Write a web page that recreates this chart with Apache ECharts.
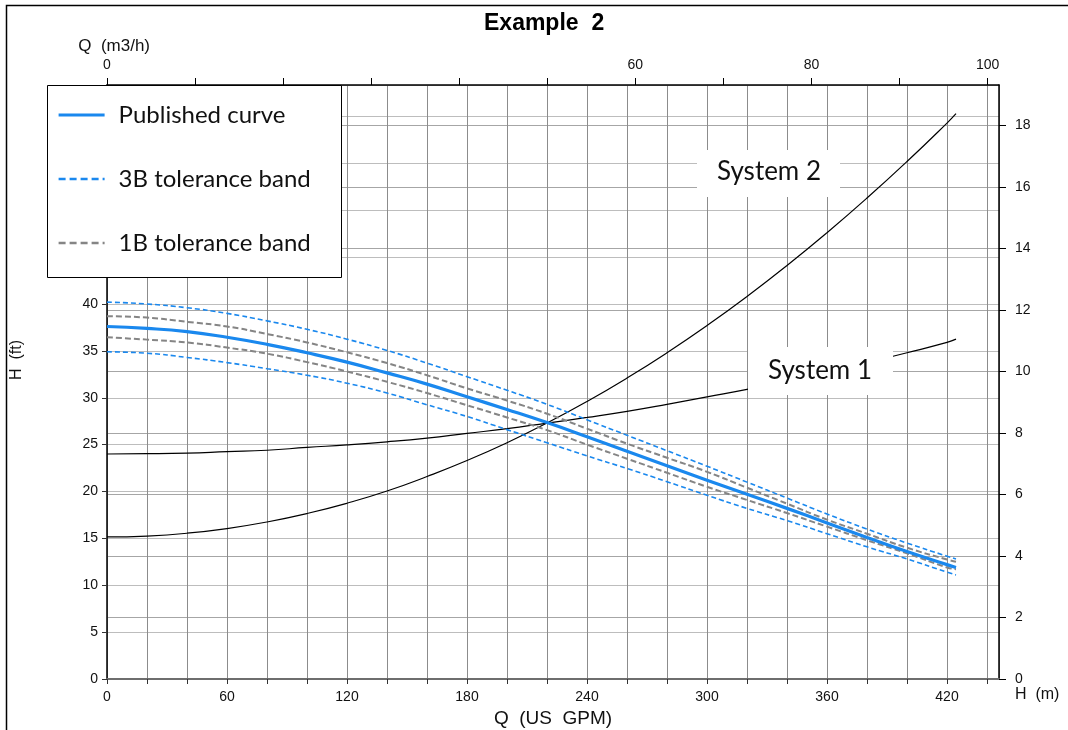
<!DOCTYPE html>
<html>
<head>
<meta charset="utf-8">
<script src="https://cdn.jsdelivr.net/npm/echarts@6/dist/echarts.min.js"></script>
<style>html,body{margin:0;padding:0;background:#fff}#c{width:1068px;height:730px}</style>
</head>
<body>
<div id="c"></div>
<script>
// Flow (US GPM) sample points
const gpm = [0,20,40,60,80,100,120,140,160,180,200,220,240,260,280,300,320,340,360,380,400,420,424.5];
// Head (ft)
const published = [37.6,37.4,37.05,36.45,35.7,34.8,33.8,32.65,31.45,30.1,28.75,27.35,25.85,24.3,22.75,21.2,19.7,18.2,16.65,15.1,13.6,12.2,11.9];
const band3BUpper = [40.2,40.0,39.6,39.0,38.2,37.3,36.25,35.05,33.7,32.25,30.8,29.3,27.65,26.0,24.35,22.7,21.0,19.3,17.6,16.0,14.5,13.1,12.8];
const band3BLower = [34.9,34.75,34.3,33.75,33.1,32.4,31.55,30.5,29.25,28.0,26.6,25.2,23.8,22.45,21.05,19.6,18.2,16.9,15.5,14.1,12.8,11.4,11.1];
const band1BUpper = [38.7,38.55,38.1,37.6,36.8,35.9,34.85,33.7,32.4,31.0,29.7,28.3,26.7,25.1,23.6,22.1,20.4,18.7,17.0,15.5,14.0,12.75,12.5];
const band1BLower = [36.45,36.2,35.9,35.35,34.7,33.8,32.8,31.7,30.5,29.2,27.9,26.55,25.0,23.5,22.0,20.5,19.1,17.7,16.25,14.8,13.4,11.9,11.7];
const system1 = [24.0,24.03,24.1,24.25,24.4,24.7,24.97,25.3,25.7,26.2,26.7,27.3,27.9,28.55,29.3,30.1,30.9,31.8,32.75,33.75,34.8,35.9,36.25];
const system2 = [15.15,15.25,15.55,16.05,16.75,17.65,18.75,20.05,21.6,23.3,25.2,27.3,29.6,32.1,34.8,37.7,40.8,44.1,47.6,51.3,55.2,59.3,60.3];
// Axis ranges / ticks
const gpmMax = 446, gpmStep = 20, gpmLabelStep = 60;
const ftMax = 63.36, ftStep = 5;
const mStep = 2;
const m3hStep = 10;
const m3hLabels = [0, 60, 80, 100];
const FT_PER_M = 3.28084, GPM_PER_M3H = 4.40287;
const names = ['Published curve', '3B tolerance band', '1B tolerance band'];

const pairs = arr => gpm.map((q, i) => [q, arr[i]]);
const blue = '#1a88ee';
const grey = '#858585';

const chart = echarts.init(document.getElementById('c'), null, {renderer: 'canvas'});
const SANS = 'Liberation Sans, Arial, sans-serif';
const axisFont = {fontFamily: SANS, fontSize: 14, color: '#111'};
chart.setOption({
  animation: false,
  backgroundColor: '#fff',
  title: {text: 'Example  2', left: 479, top: 7,
    textStyle: {fontFamily: SANS, fontWeight: 'bold', fontSize: 23, color: '#000'}},
  grid: {left: 107, right: 69, top: 85, bottom: 51, containLabel: false, outerBoundsMode: 'none'},
  legend: {
    data: [
      {name: names[0], lineStyle: {width: 3.2}},
      {name: names[1], lineStyle: {width: 2.4, type: [7, 4]}},
      {name: names[2], lineStyle: {width: 2.6, type: [7, 4]}}
    ],
    orient: 'vertical', left: 47, top: 85, z: 5,
    padding: [18, 20, 20, 10], itemWidth: 46, itemHeight: 24, itemGap: 40,
    itemStyle: {opacity: 0},
    textStyle: {fontFamily: 'Lato, sans-serif', fontSize: 24, color: '#111', padding: [0, 0, 0, 9]},
    selectedMode: false
  },
  xAxis: [
    {type: 'value', position: 'bottom', min: 0, max: gpmMax, interval: gpmStep,
      name: 'Q  (US  GPM)', nameLocation: 'middle', nameGap: 30,
      nameTextStyle: {fontFamily: SANS, fontSize: 19, color: '#111'},
      axisLine: {onZero: false, lineStyle: {color: '#6e6e6e', width: 2}},
      axisTick: {show: true, length: 5, lineStyle: {color: '#333'}},
      axisLabel: Object.assign({margin: 11, showMaxLabel: false,
        formatter: v => (v % gpmLabelStep === 0 ? String(v) : '')}, axisFont),
      splitLine: {show: true, lineStyle: {color: '#8c8c8c', width: 1}}},
    {type: 'value', position: 'top', min: 0, max: gpmMax / GPM_PER_M3H, interval: m3hStep,
      name: 'Q  (m3/h)', nameLocation: 'start', nameGap: -43,
      nameTextStyle: {fontFamily: SANS, fontSize: 17, color: '#111',
        verticalAlign: 'bottom', align: 'right', padding: [0, 0, 30, 0]},
      axisLine: {onZero: false, lineStyle: {color: '#000', width: 1.5}},
      axisTick: {show: true, length: 7, lineStyle: {color: '#000'}},
      axisLabel: Object.assign({margin: 13, showMaxLabel: false,
        formatter: v => (m3hLabels.indexOf(Math.round(v)) >= 0 && Math.abs(v - Math.round(v)) < 1e-6 ? String(Math.round(v)) : '')}, axisFont),
      splitLine: {show: false}}
  ],
  yAxis: [
    {type: 'value', position: 'left', min: 0, max: ftMax, interval: ftStep,
      name: 'H  (ft)', nameLocation: 'middle', nameGap: 82,
      nameTextStyle: {fontFamily: SANS, fontSize: 16, color: '#111', padding: [0, 0, 0, 44]},
      axisLine: {show: true, onZero: false, lineStyle: {color: '#000', width: 1.5}},
      axisTick: {show: true, length: 5, lineStyle: {color: '#333'}},
      axisLabel: Object.assign({margin: 9, showMaxLabel: false}, axisFont),
      splitLine: {show: true, lineStyle: {color: '#bdbdbd', width: 1}}},
    {type: 'value', position: 'right', min: 0, max: ftMax / FT_PER_M, interval: mStep,
      name: 'H  (m)', nameLocation: 'start', nameGap: 8,
      nameTextStyle: {fontFamily: SANS, fontSize: 16, color: '#111', align: 'left', padding: [0, 0, 0, 16]},
      axisLine: {show: true, onZero: false, lineStyle: {color: '#000', width: 1.5}},
      axisTick: {show: true, length: 7, lineStyle: {color: '#000'}},
      axisLabel: Object.assign({margin: 16, showMaxLabel: false}, axisFont),
      splitLine: {show: true, lineStyle: {color: '#a6a6a6', width: 1}}}
  ],
  series: [
    {name: 'System 1', type: 'line', data: pairs(system1), smooth: true, showSymbol: false, z: 3,
      lineStyle: {color: '#000', width: 1.2}},
    {name: 'System 2', type: 'line', data: pairs(system2), smooth: true, showSymbol: false, z: 3,
      lineStyle: {color: '#000', width: 1.2}},
    {name: names[1], type: 'line', data: pairs(band3BUpper), smooth: true, showSymbol: false, symbol: 'none',
      itemStyle: {color: blue}, lineStyle: {color: blue, width: 1.6, type: [5, 3]}},
    {name: names[1], type: 'line', data: pairs(band3BLower), smooth: true, showSymbol: false, symbol: 'none',
      itemStyle: {color: blue}, lineStyle: {color: blue, width: 1.6, type: [5, 3]}},
    {name: names[2], type: 'line', data: pairs(band1BUpper), smooth: true, showSymbol: false, symbol: 'none',
      itemStyle: {color: grey}, lineStyle: {color: grey, width: 2, type: [6, 3]}},
    {name: names[2], type: 'line', data: pairs(band1BLower), smooth: true, showSymbol: false, symbol: 'none',
      itemStyle: {color: grey}, lineStyle: {color: grey, width: 2, type: [6, 3]}},
    {name: names[0], type: 'line', data: pairs(published), smooth: true, showSymbol: false, symbol: 'none', z: 4,
      itemStyle: {color: blue}, lineStyle: {color: blue, width: 3.2}}
  ],
  graphic: [
    {type: 'polyline', z: 10, silent: true, shape: {points: [[6.5, 730], [6.5, 5.5], [1068, 5.5]]},
      style: {stroke: '#000', lineWidth: 1.5, fill: null}},
    {type: 'rect', z: 3, silent: true, shape: {x: 47.5, y: 85.5, width: 294, height: 192},
      style: {fill: '#fff', stroke: '#000', lineWidth: 1}},
    {type: 'rect', z: 6, silent: true, shape: {x: 697, y: 150, width: 143, height: 47}, style: {fill: '#fff'}},
    {type: 'text', z: 7, silent: true, x: 769, y: 172,
      style: {text: 'System 2', fontFamily: 'Lato, sans-serif', fontSize: 26, fill: '#111', align: 'center', verticalAlign: 'middle'}},
    {type: 'rect', z: 6, silent: true, shape: {x: 748, y: 347, width: 145, height: 48}, style: {fill: '#fff'}},
    {type: 'text', z: 7, silent: true, x: 820, y: 371,
      style: {text: 'System 1', fontFamily: 'Lato, sans-serif', fontSize: 26, fill: '#111', align: 'center', verticalAlign: 'middle'}}
  ]
});
</script>
</body>
</html>
